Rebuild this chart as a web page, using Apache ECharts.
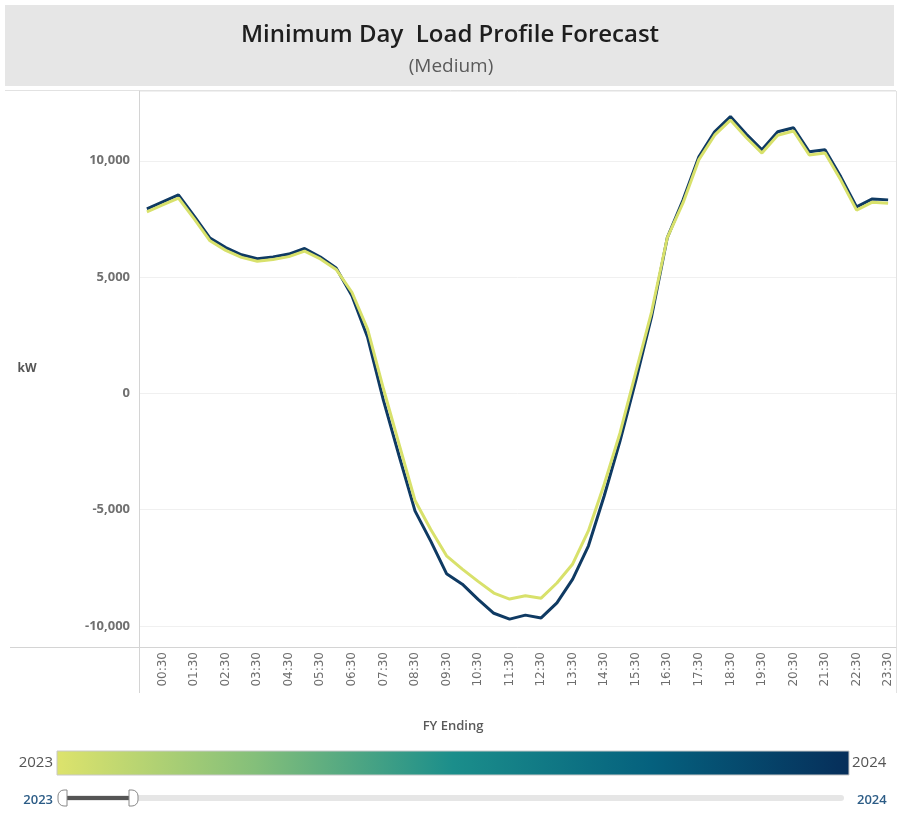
<!DOCTYPE html>
<html>
<head>
<meta charset="utf-8">
<script src="https://cdn.jsdelivr.net/npm/echarts@6/dist/echarts.min.js"></script>
<style>
html,body{margin:0;padding:0;background:#fff;}
#chart{width:901px;height:819px;}
</style>
</head>
<body>
<div id="chart"></div>
<script>
// Half-hour time slots
const times = [];
for (let h = 0; h < 24; h++) {
  const hh = (h < 10 ? '0' : '') + h;
  times.push(hh + ':00');
  times.push(hh + ':30');
}

const load2023 = [
  7800, 8100, 8400, 7500, 6560, 6150, 5850, 5680, 5760, 5880, 6120, 5780,
  5330, 4350, 2750, 200, -2200, -4600, -5850, -6980, -7550, -8080, -8580, -8840,
  -8700, -8800, -8150, -7330, -5900, -3900, -1700, 900, 3500, 6700, 8200, 10050,
  11100, 11750, 11000, 10330, 11100, 11280, 10250, 10330, 9170, 7880, 8220, 8180
];

const load2024 = [
  7930, 8230, 8530, 7620, 6680, 6270, 5960, 5790, 5870, 5990, 6230, 5860,
  5390, 4200, 2400, -300, -2700, -5050, -6350, -7750, -8200, -8850, -9450, -9700,
  -9530, -9650, -9000, -7980, -6550, -4400, -2050, 550, 3300, 6700, 8320, 10170,
  11250, 11900, 11150, 10470, 11250, 11420, 10390, 10470, 9310, 8020, 8360, 8320
];

const yearLabels = ['2023', '2024'];
const titleText = 'Minimum Day  Load Profile Forecast';
const subtitleText = '(Medium)';

const chart = echarts.init(document.getElementById('chart'), null, {renderer: 'canvas'});

const font = 'Open Sans, Lato, sans-serif';

chart.setOption({
  animation: false,
  backgroundColor: '#ffffff',
  grid: {left: 139, right: 5, top: 91, bottom: 172, containLabel: false},
  xAxis: {
    type: 'category',
    data: times,
    boundaryGap: true,
    axisLine: {show: true, onZero: false, lineStyle: {color: '#d4d4d4', width: 1}},
    axisTick: {show: false},
    axisLabel: {
      rotate: 90,
      interval: function (idx) { return idx % 2 === 1; },
      fontSize: 12,
      color: '#6e6e6e',
      fontFamily: 'DejaVu Sans, sans-serif',
      margin: 5
    },
    splitLine: {show: false}
  },
  yAxis: {
    type: 'value',
    min: -10900,
    max: 13000,
    splitNumber: 5,
    axisLine: {show: true, lineStyle: {color: '#d4d4d4', width: 1}},
    axisTick: {show: false},
    axisLabel: {
      showMinLabel: false,
      showMaxLabel: false,
      fontSize: 13,
      fontWeight: 'bold',
      color: '#707070',
      fontFamily: font,
      margin: 9,
      formatter: function (v) {
        if (v % 5000 !== 0) return '';
        return v.toLocaleString('en-US');
      }
    },
    splitLine: {show: true, lineStyle: {color: '#f0f0f0', width: 1}}
  },
  series: [
    {
      name: yearLabels[1],
      type: 'line',
      data: load2024,
      symbol: 'none',
      lineStyle: {color: '#0f3a63', width: 3},
      z: 2
    },
    {
      name: yearLabels[0],
      type: 'line',
      data: load2023,
      symbol: 'none',
      lineStyle: {color: '#d8e16b', width: 3},
      z: 3
    }
  ],
  graphic: [
    // header
    {type: 'rect', shape: {x: 5, y: 5, width: 889, height: 81}, style: {fill: '#e6e6e6'}, silent: true},
    {type: 'text', x: 450, y: 35, style: {text: titleText, fontSize: 24, fontWeight: 600, fontFamily: font, fill: '#1e1e1e', align: 'center', verticalAlign: 'middle'}},
    {type: 'text', x: 451, y: 67, style: {text: subtitleText, fontSize: 19, fontFamily: font, fill: '#5a5a5a', align: 'center', verticalAlign: 'middle'}},
    // frame lines
    {type: 'line', shape: {x1: 5, y1: 90.5, x2: 896, y2: 90.5}, style: {stroke: '#e2e2e2', lineWidth: 1}},
    {type: 'line', shape: {x1: 10, y1: 647.5, x2: 896, y2: 647.5}, style: {stroke: '#d4d4d4', lineWidth: 1}},
    {type: 'line', shape: {x1: 139.5, y1: 91, x2: 139.5, y2: 693}, style: {stroke: '#d4d4d4', lineWidth: 1}},
    {type: 'line', shape: {x1: 896.5, y1: 91, x2: 896.5, y2: 693}, style: {stroke: '#e2e2e2', lineWidth: 1}},
    // axis titles
    {type: 'text', x: 27, y: 369, style: {text: 'kW', fontSize: 12, fontWeight: 'bold', fontFamily: font, fill: '#555', align: 'center', verticalAlign: 'middle'}},
    {type: 'text', x: 453, y: 726, style: {text: 'FY Ending', fontSize: 13, fontWeight: 600, fontFamily: font, fill: '#5a5a5a', align: 'center', verticalAlign: 'middle'}},
    // colour legend
    {type: 'rect', shape: {x: 57, y: 751, width: 792, height: 24},
      style: {
        fill: new echarts.graphic.LinearGradient(0, 0, 1, 0, [
          {offset: 0, color: '#dde36c'},
          {offset: 0.25, color: '#84bf7a'},
          {offset: 0.5, color: '#1b8e8b'},
          {offset: 0.75, color: '#05617e'},
          {offset: 1, color: '#062e5a'}
        ]),
        stroke: '#c8c8c8', lineWidth: 1
      }},
    {type: 'text', x: 53, y: 763, style: {text: yearLabels[0], fontSize: 15, fontFamily: font, fill: '#555', align: 'right', verticalAlign: 'middle'}},
    {type: 'text', x: 852, y: 763, style: {text: yearLabels[1], fontSize: 15, fontFamily: font, fill: '#555', align: 'left', verticalAlign: 'middle'}},
    // slider
    {type: 'rect', shape: {x: 62, y: 795, width: 782, height: 6, r: 3}, style: {fill: '#e6e6e6'}},
    {type: 'rect', shape: {x: 66, y: 796, width: 67, height: 4}, style: {fill: '#555'}},
    {type: 'rect', shape: {x: 58, y: 790, width: 9, height: 16, r: [6, 0, 0, 6]}, style: {fill: '#fff', stroke: '#888', lineWidth: 1}},
    {type: 'rect', shape: {x: 129, y: 790, width: 9, height: 16, r: [0, 6, 6, 0]}, style: {fill: '#fff', stroke: '#888', lineWidth: 1}},
    {type: 'text', x: 53, y: 800, style: {text: yearLabels[0], fontSize: 13, fontWeight: 600, fontFamily: font, fill: '#2c5c86', align: 'right', verticalAlign: 'middle'}},
    {type: 'text', x: 857, y: 800, style: {text: yearLabels[1], fontSize: 13, fontWeight: 600, fontFamily: font, fill: '#2c5c86', align: 'left', verticalAlign: 'middle'}}
  ]
});
</script>
</body>
</html>
